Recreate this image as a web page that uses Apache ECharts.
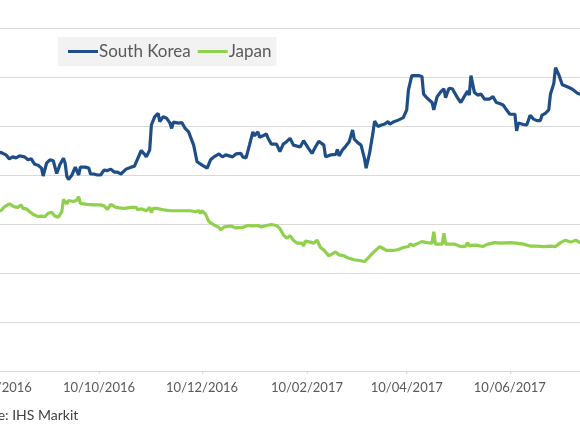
<!DOCTYPE html>
<html>
<head>
<meta charset="utf-8">
<script src="https://cdn.jsdelivr.net/npm/echarts@6/dist/echarts.min.js"></script>
<style>
html,body{margin:0;padding:0;width:580px;height:435px;overflow:hidden;background:#fff;}
#c{position:absolute;left:-60px;top:0;width:700px;height:435px;}
</style>
</head>
<body>
<div id="c"></div>
<script>
var seriesNames = ['South Korea', 'Japan'];
var tickDates = ['2016-08-10','2016-10-10','2016-12-10','2017-02-10','2017-04-10','2017-06-10'];
var axisRange = ['2016-08-01', '2017-08-10'];
var yTicks = [0, 10, 20, 30, 40, 50, 60, 70];
var sourceText = 'Source: IHS Markit';

var southKorea = [
['2016-08-01',45.0],['2016-08-07',44.4],['2016-08-13',44.6],['2016-08-14',44.3],['2016-08-16',44.1],['2016-08-17',44.3],
['2016-08-18',43.3],['2016-08-20',43.7],['2016-08-21',44.1],['2016-08-22',43.5],['2016-08-24',43.9],['2016-08-25',44.1],
['2016-08-27',43.7],['2016-08-29',43.1],['2016-08-31',43.3],['2016-09-01',42.7],['2016-09-02',42.2],['2016-09-04',42.0],
['2016-09-06',41.4],['2016-09-07',39.8],['2016-09-08',39.7],['2016-09-09',42.4],['2016-09-11',43.1],['2016-09-13',42.9],
['2016-09-15',40.3],['2016-09-17',42.2],['2016-09-19',43.4],['2016-09-20',42.4],['2016-09-21',39.7],['2016-09-22',39.1],
['2016-09-24',40.0],['2016-09-26',41.6],['2016-09-28',40.0],['2016-09-29',41.6],['2016-10-02',41.6],['2016-10-04',41.4],
['2016-10-05',40.2],['2016-10-07',40.2],['2016-10-09',40.0],['2016-10-11',40.0],['2016-10-13',41.0],['2016-10-15',40.9],
['2016-10-17',41.2],['2016-10-19',40.6],['2016-10-21',40.6],['2016-10-23',40.2],['2016-10-26',41.2],['2016-10-29',41.6],
['2016-10-31',41.8],['2016-11-02',43.4],['2016-11-04',45.0],['2016-11-06',44.2],['2016-11-07',43.7],['2016-11-09',45.1],
['2016-11-10',50.2],['2016-11-12',51.9],['2016-11-14',52.6],['2016-11-15',50.9],['2016-11-17',51.9],['2016-11-19',51.6],
['2016-11-21',50.6],['2016-11-22',49.5],['2016-11-23',50.8],['2016-11-26',50.6],['2016-11-28',50.7],['2016-11-30',49.5],
['2016-12-02',48.8],['2016-12-05',46.1],['2016-12-07',42.7],['2016-12-10',42.0],['2016-12-13',41.4],['2016-12-14',41.2],
['2016-12-15',43.1],['2016-12-17',43.7],['2016-12-20',44.3],['2016-12-22',43.7],['2016-12-24',44.1],['2016-12-26',43.9],
['2016-12-28',43.7],['2016-12-29',43.4],['2016-12-30',44.3],['2017-01-02',44.4],['2017-01-03',43.7],['2017-01-05',43.5],
['2017-01-07',46.1],['2017-01-09',48.8],['2017-01-10',48.0],['2017-01-12',48.8],['2017-01-13',47.7],['2017-01-15',48.0],
['2017-01-17',48.4],['2017-01-18',47.5],['2017-01-20',46.3],['2017-01-23',46.3],['2017-01-24',46.1],['2017-01-25',44.8],
['2017-01-27',46.3],['2017-01-29',46.8],['2017-01-31',47.5],['2017-02-02',46.1],['2017-02-03',45.7],['2017-02-06',45.7],
['2017-02-08',47.0],['2017-02-11',45.4],['2017-02-13',44.4],['2017-02-15',45.7],['2017-02-17',46.9],['2017-02-20',46.1],
['2017-02-21',43.7],['2017-02-24',44.1],['2017-02-27',44.2],['2017-02-28',45.2],['2017-03-01',43.9],['2017-03-03',45.1],
['2017-03-05',45.9],['2017-03-07',46.8],['2017-03-09',49.2],['2017-03-10',47.3],['2017-03-12',46.6],['2017-03-14',46.1],
['2017-03-16',43.4],['2017-03-17',41.4],['2017-03-19',44.4],['2017-03-21',48.5],['2017-03-22',51.0],['2017-03-24',49.9],
['2017-03-26',50.2],['2017-03-28',50.4],['2017-03-30',50.9],['2017-03-31',50.4],['2017-04-02',50.8],['2017-04-05',51.2],
['2017-04-06',50.9],['2017-04-08',51.7],['2017-04-10',53.3],['2017-04-11',57.3],['2017-04-13',60.3],['2017-04-17',60.3],
['2017-04-19',60.1],['2017-04-20',56.5],['2017-04-22',55.7],['2017-04-25',54.8],['2017-04-26',53.3],['2017-04-28',56.0],
['2017-04-30',56.9],['2017-05-02',57.6],['2017-05-03',55.8],['2017-05-05',57.7],['2017-05-07',57.6],['2017-05-08',57.0],
['2017-05-10',55.8],['2017-05-12',54.8],['2017-05-14',56.0],['2017-05-16',57.1],['2017-05-17',56.3],['2017-05-18',60.3],
['2017-05-20',56.9],['2017-05-22',56.3],['2017-05-24',56.5],['2017-05-26',55.5],['2017-05-29',55.5],['2017-05-31',56.0],
['2017-06-02',54.8],['2017-06-04',54.6],['2017-06-06',54.3],['2017-06-08',53.3],['2017-06-10',52.4],['2017-06-13',52.4],
['2017-06-14',49.0],['2017-06-15',50.6],['2017-06-18',50.3],['2017-06-20',50.2],['2017-06-22',52.2],['2017-06-24',51.4],
['2017-06-26',51.1],['2017-06-28',51.1],['2017-06-29',52.2],['2017-07-01',52.6],['2017-07-03',53.3],['2017-07-04',56.5],
['2017-07-06',58.7],['2017-07-07',61.9],['2017-07-09',60.4],['2017-07-11',58.4],['2017-07-14',58.0],['2017-07-17',57.5],
['2017-07-18',57.5],['2017-07-20',56.7],['2017-07-24',56.2],['2017-07-28',55.6],['2017-08-02',56.0],['2017-08-08',56.4]
];

var japan = [
['2016-08-01',33.0],['2016-08-07',32.8],['2016-08-13',32.7],['2016-08-15',33.5],['2016-08-18',34.1],['2016-08-21',33.5],
['2016-08-23',33.4],['2016-08-25',33.9],['2016-08-26',33.2],['2016-08-28',33.1],['2016-08-30',32.5],['2016-09-01',32.0],
['2016-09-04',31.5],['2016-09-06',31.6],['2016-09-08',31.5],['2016-09-10',32.2],['2016-09-12',32.4],['2016-09-14',31.6],
['2016-09-16',31.4],['2016-09-18',32.5],['2016-09-19',35.0],['2016-09-21',34.1],['2016-09-22',34.8],['2016-09-25',34.6],
['2016-09-27',34.9],['2016-09-28',35.6],['2016-09-29',34.2],['2016-10-03',34.0],['2016-10-07',33.9],['2016-10-11',33.9],
['2016-10-13',33.7],['2016-10-15',33.0],['2016-10-17',34.0],['2016-10-20',33.4],['2016-10-22',33.3],['2016-10-25',33.2],
['2016-10-29',33.4],['2016-11-01',33.4],['2016-11-02',32.9],['2016-11-04',33.1],['2016-11-07',32.7],['2016-11-09',33.4],
['2016-11-10',32.3],['2016-11-11',33.2],['2016-11-13',33.2],['2016-11-17',32.9],['2016-11-21',32.7],['2016-11-25',32.7],
['2016-11-29',32.7],['2016-12-03',32.7],['2016-12-06',32.5],['2016-12-08',32.7],['2016-12-09',32.2],['2016-12-10',32.7],
['2016-12-12',32.0],['2016-12-14',30.5],['2016-12-17',29.8],['2016-12-20',29.3],['2016-12-21',28.8],['2016-12-23',29.4],
['2016-12-27',29.6],['2016-12-30',29.2],['2017-01-03',29.3],['2017-01-06',29.7],['2017-01-09',29.6],['2017-01-12',29.7],
['2017-01-14',29.4],['2017-01-17',29.7],['2017-01-20',29.9],['2017-01-23',29.7],['2017-01-25',29.1],['2017-01-27',27.8],
['2017-01-29',27.1],['2017-01-31',27.6],['2017-02-02',26.7],['2017-02-04',26.1],['2017-02-07',26.1],['2017-02-08',25.5],
['2017-02-09',26.5],['2017-02-12',26.3],['2017-02-14',26.1],['2017-02-16',26.7],['2017-02-18',25.2],['2017-02-20',24.7],
['2017-02-23',23.5],['2017-02-25',23.9],['2017-02-27',24.3],['2017-03-01',23.7],['2017-03-04',23.5],['2017-03-06',23.1],
['2017-03-10',22.7],['2017-03-14',22.5],['2017-03-16',22.3],['2017-03-18',23.0],['2017-03-21',24.1],['2017-03-25',25.4],
['2017-03-27',25.0],['2017-03-29',24.6],['2017-04-02',24.6],['2017-04-05',24.8],['2017-04-08',25.2],['2017-04-11',25.4],
['2017-04-12',25.9],['2017-04-14',25.6],['2017-04-17',26.1],['2017-04-19',26.4],['2017-04-22',26.2],['2017-04-25',26.1],
['2017-04-26',28.4],['2017-04-27',25.9],['2017-05-01',25.9],['2017-05-02',28.1],['2017-05-03',25.9],['2017-05-08',25.9],
['2017-05-12',25.4],['2017-05-15',25.5],['2017-05-16',26.2],['2017-05-17',25.6],['2017-05-21',25.7],['2017-05-25',25.4],
['2017-05-28',25.9],['2017-06-01',26.2],['2017-06-05',26.1],['2017-06-10',26.2],['2017-06-14',26.1],['2017-06-18',25.9],
['2017-06-22',25.5],['2017-06-26',25.5],['2017-06-30',25.4],['2017-07-04',25.5],['2017-07-07',25.4],['2017-07-10',26.2],
['2017-07-13',26.7],['2017-07-16',26.3],['2017-07-17',25.9],['2017-07-19',26.7],['2017-07-21',26.3],['2017-07-25',26.0],
['2017-08-01',26.2],['2017-08-08',26.0]
];

function ts(s) { var p = s.split('-'); return new Date(+p[0], +p[1] - 1, +p[2]).getTime(); }
function pad(n) { return (n < 10 ? '0' : '') + n; }
function toPoints(arr) { return arr.map(function (d) { return [ts(d[0]), d[1]]; }); }
var tickValues = tickDates.map(ts);
var FONT = 'Lato, "Open Sans", sans-serif';

var chart = echarts.init(document.getElementById('c'), null, {renderer: 'canvas'});
chart.setOption({
  animation: false,
  backgroundColor: '#ffffff',
  textStyle: {fontFamily: FONT},
  title: {
    text: sourceText,
    left: 23, top: 408, padding: 0,
    textStyle: {fontFamily: FONT, fontSize: 14, fontWeight: 'normal', color: '#404040'}
  },
  legend: {
    data: seriesNames,
    left: 118, top: 37,
    padding: [6, 5, 6, 10],
    backgroundColor: '#f2f2f2',
    icon: 'rect', itemWidth: 30, itemHeight: 3, itemGap: 7,
    textStyle: {fontFamily: FONT, fontSize: 17, color: '#595959', padding: [0, 0, 0, -4]}
  },
  grid: {left: 40.6, right: 27, top: 28, bottom: 64, containLabel: false, outerBoundsMode: 'none'},
  xAxis: {
    type: 'value',
    min: ts(axisRange[0]), max: ts(axisRange[1]),
    axisLine: {lineStyle: {color: '#d9d9d9', width: 1}},
    axisTick: {show: true, length: 3, customValues: tickValues, lineStyle: {color: '#d9d9d9'}},
    axisLabel: {
      customValues: tickValues, showMinLabel: true, showMaxLabel: true, hideOverlap: false,
      color: '#595959', fontSize: 13, fontFamily: FONT, margin: 10,
      formatter: function (v) { var d = new Date(v); return pad(d.getDate()) + '/' + pad(d.getMonth() + 1) + '/' + d.getFullYear(); }
    },
    splitLine: {show: false}
  },
  yAxis: {
    type: 'value',
    min: yTicks[0], max: yTicks[yTicks.length - 1], interval: 10,
    axisLine: {show: false}, axisTick: {show: false},
    axisLabel: {show: false},
    splitLine: {lineStyle: {color: '#d9d9d9', width: 1}}
  },
  series: [
    {name: seriesNames[0], type: 'line', data: toPoints(southKorea), showSymbol: false, symbol: 'none',
     lineStyle: {color: '#1f4e87', width: 3.2}, itemStyle: {color: '#1f4e87'}, z: 3},
    {name: seriesNames[1], type: 'line', data: toPoints(japan), showSymbol: false, symbol: 'none',
     lineStyle: {color: '#8fd04c', width: 3.2}, itemStyle: {color: '#8fd04c'}, z: 2}
  ]
});
</script>
</body>
</html>
